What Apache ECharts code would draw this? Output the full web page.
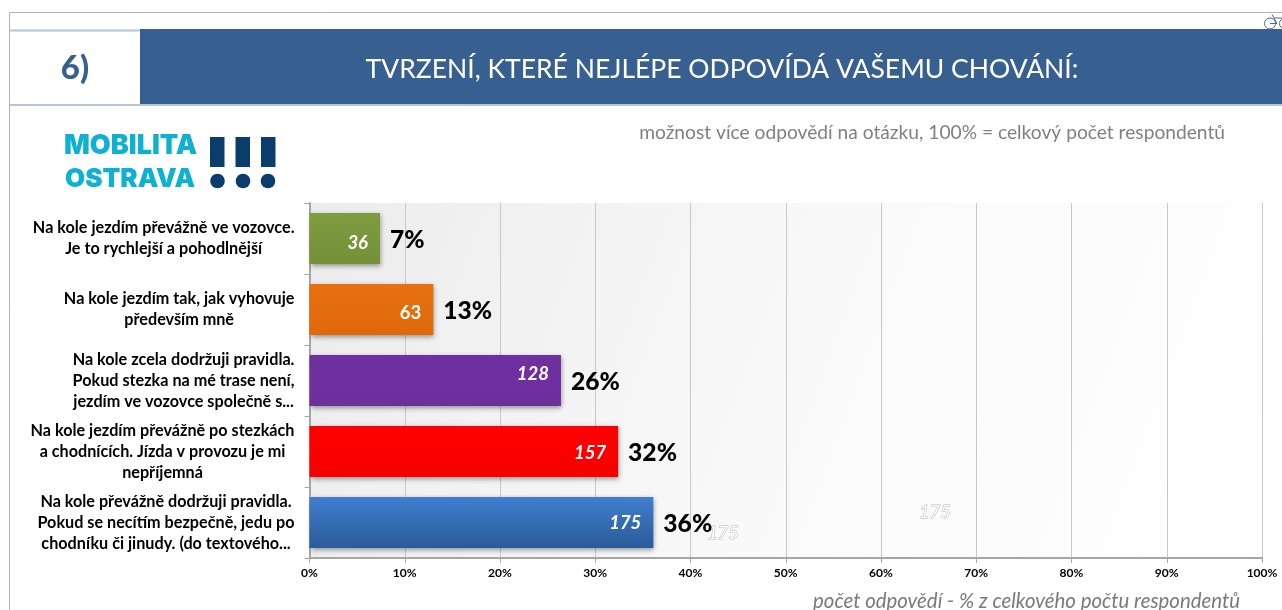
<!DOCTYPE html>
<html><head><meta charset="utf-8">
<style>html,body{margin:0;padding:0;background:#fff;overflow:hidden}#c{width:1282px;height:610px}</style>
<script src="https://cdn.jsdelivr.net/npm/echarts@6/dist/echarts.min.js"></script>
</head><body><div id="c"></div>
<script>
const categories = [
  ["Na kole jezdím převážně ve vozovce.", "Je to rychlejší a pohodlnější"],
  ["Na kole jezdím tak, jak vyhovuje", "především mně"],
  ["Na kole zcela dodržuji pravidla.", "Pokud stezka na mé trase není,", "jezdím ve vozovce společně s..."],
  ["Na kole jezdím převážně po stezkách", "a chodnících. Jízda v provozu je mi", "nepříjemná"],
  ["Na kole převážně dodržuji pravidla.", "Pokud se necítím bezpečně, jedu po", "chodníku či jinudy. (do textového..."]
];
const percents = [7.4, 13.0, 26.4, 32.4, 36.1];
const counts = [36, 63, 128, 157, 175];
const percentLabels = ["7%", "13%", "26%", "32%", "36%"];
const countLabelShift = [5, 4, -6, 2, 1];
const barColors = [
  ["#7f9c40", "#759038"],
  ["#e8700f", "#df690a"],
  ["#7030a0", "#6c2f9c"],
  ["#ff0000", "#f80000"],
  ["#3f7fd0", "#2b5a98"]
];
const mainTitle = "TVRZENÍ, KTERÉ NEJLÉPE ODPOVÍDÁ VAŠEMU CHOVÁNÍ:";
const questionNo = "6)";
const subTitle = "možnost více odpovědí na otázku, 100% = celkový počet respondentů";
const axisNote = "počet odpovědí - % z celkového počtu respondentů";
const ghostLabel = "175";

const FONT = "Lato, 'Open Sans', sans-serif";
const grad = (a, b) => new echarts.graphic.LinearGradient(0, 0, 0, 1, [{offset: 0, color: a}, {offset: 1, color: b}]);
const ghost = (x, y) => ({type: 'text', x, y, silent: true, style: {text: ghostLabel, fill: '#ffffff', stroke: '#b5b5b5', lineWidth: 1,
  font: 'italic 18px ' + FONT, align: 'center', verticalAlign: 'middle'}});
const line = (x1, y1, x2, y2, stroke, w) => ({type: 'line', silent: true, shape: {x1, y1, x2, y2}, style: {stroke, lineWidth: w || 1}});

const chart = echarts.init(document.getElementById('c'), null, {renderer: 'canvas'});
chart.setOption({
  animation: false,
  backgroundColor: '#ffffff',
  textStyle: {fontFamily: FONT},
  title: {
    text: mainTitle, left: 717, top: 51, textAlign: 'center',
    textStyle: {color: '#ffffff', fontSize: 26.5, fontWeight: 'normal', fontFamily: FONT}
  },
  grid: {
    left: 309.5, top: 203, width: 952.5, height: 355, containLabel: false, show: true, borderWidth: 0,
    backgroundColor: new echarts.graphic.LinearGradient(0, 0, 1, 1, [
      {offset: 0, color: '#ececec'}, {offset: 0.55, color: '#fafafa'}, {offset: 1, color: '#ffffff'}])
  },
  xAxis: {
    type: 'value', min: 0, max: 100, interval: 10,
    axisLine: {show: true, lineStyle: {color: '#a6a6a6', width: 2}},
    axisTick: {show: true, length: 5, lineStyle: {color: '#a6a6a6'}},
    splitLine: {show: true, lineStyle: {color: '#c8c8c8', width: 1}},
    axisLabel: {formatter: '{value}%', color: '#000', fontWeight: 'bold', fontSize: 12, margin: 9, fontFamily: FONT}
  },
  yAxis: {
    type: 'category', inverse: true,
    data: categories.map(l => l.join('\n')),
    axisLine: {show: true, lineStyle: {color: '#a6a6a6', width: 2}},
    axisTick: {show: true, length: 5, lineStyle: {color: '#a6a6a6'}},
    axisLabel: {
      margin: 15, align: 'right',
      formatter: v => v.split('\n').map(s => '{c|' + s + '}').join('\n'),
      rich: {c: {align: 'center', color: '#000', fontWeight: 'bold', fontSize: 16.2, lineHeight: 21, fontFamily: FONT}}
    }
  },
  series: [
    {
      type: 'bar', barWidth: 51, z: 3,
      data: percents.map((v, i) => ({
        value: v,
        itemStyle: {color: grad(barColors[i][0], barColors[i][1]), shadowColor: 'rgba(0,0,0,0.4)', shadowBlur: 5, shadowOffsetY: 2, shadowOffsetX: 1},
        label: {
          show: true, position: 'insideRight', distance: 12, offset: [0, countLabelShift[i]],
          formatter: String(counts[i]), color: '#ffffff', fontSize: 18.5,
          fontStyle: i === 1 ? 'normal' : 'italic', fontWeight: 'bold', fontFamily: FONT
        }
      }))
    },
    {
      type: 'bar', barWidth: 51, barGap: '-100%', z: 4,
      itemStyle: {color: 'transparent'},
      data: percents.map((v, i) => ({
        value: v,
        label: {show: true, position: 'right', distance: 10, offset: [0, 2], formatter: percentLabels[i],
          color: '#000', fontSize: 24.6, fontWeight: 900, fontFamily: FONT}
      }))
    }
  ],
  graphic: [
    line(9.5, 12.5, 1282, 12.5, '#a9b4c6'),
    line(9.5, 12.5, 9.5, 610, '#a9b4c6'),
    line(9.5, 30.5, 140, 30.5, '#b5c4d8', 2),
    line(9.5, 105, 1282, 105, '#b5c4d8', 2),
    {type: 'rect', silent: true, shape: {x: 140, y: 29, width: 1142, height: 76}, style: {fill: '#375f8f'}, z: -1},
    {type: 'text', silent: true, x: 75, y: 68, style: {text: questionNo, fill: '#375f8f', font: '900 33px ' + FONT, align: 'center', verticalAlign: 'middle'}},
    {type: 'text', silent: true, x: 1225, y: 133, style: {text: subTitle, fill: '#808080', font: '19.2px ' + FONT, align: 'right', verticalAlign: 'middle'}},
    {type: 'text', silent: true, x: 1240, y: 601, style: {text: axisNote, fill: '#7a7a7a', font: 'italic 20.4px ' + FONT, align: 'right', verticalAlign: 'middle'}},
    {type: 'text', silent: true, x: 64, y: 146, style: {text: 'MOBILITA', fill: '#0fb1d2', font: '900 27px Inter, ' + FONT, align: 'left', verticalAlign: 'middle'}},
    {type: 'text', silent: true, x: 65, y: 179, style: {text: 'OSTRAVA', fill: '#0fb1d2', font: '900 26px Inter, ' + FONT, align: 'left', verticalAlign: 'middle'}},
    ...[210, 235.5, 261].map(x => ({type: 'rect', silent: true, shape: {x, y: 137, width: 14.5, height: 30}, style: {fill: '#0a3d6b'}})),
    ...[217.5, 243, 268].map(cx => ({type: 'circle', silent: true, shape: {cx, cy: 181, r: 7.3}, style: {fill: '#0a3d6b'}})),
    {type: 'circle', silent: true, shape: {cx: 1270, cy: 23.5, r: 5.5}, style: {fill: 'none', stroke: '#4a6a9a', lineWidth: 1}},
    {type: 'circle', silent: true, shape: {cx: 1285, cy: 23.5, r: 5.5}, style: {fill: 'none', stroke: '#4a6a9a', lineWidth: 1}},
    line(1270, 23.5, 1277, 23.5, '#4a6a9a'),
    line(1277, 23.5, 1272, 14.5, '#4a6a9a'),
    line(1274, 18, 1282, 18, '#4a6a9a'),
    ghost(723, 533),
    ghost(935, 512)
  ]
});
</script></body></html>
